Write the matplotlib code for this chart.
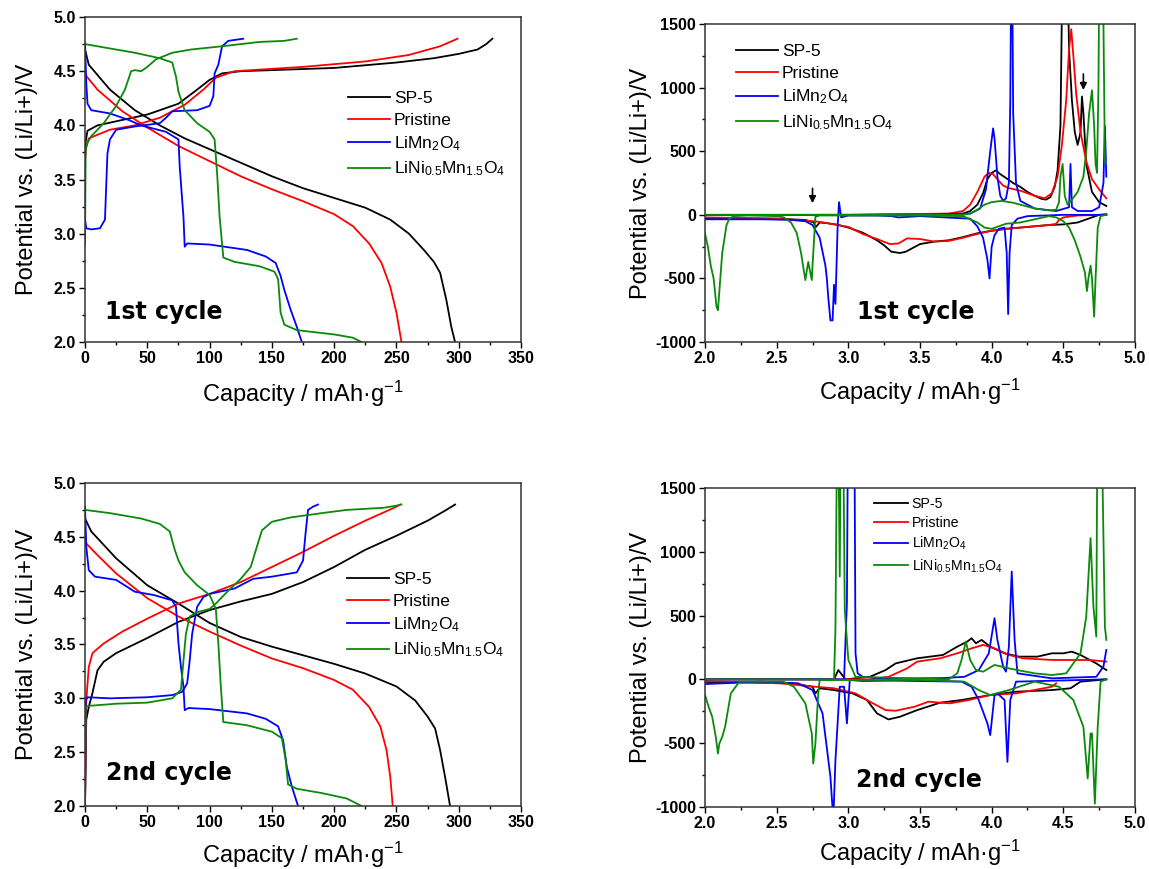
import matplotlib
matplotlib.use("Agg")
import matplotlib.pyplot as plt
from matplotlib.ticker import MultipleLocator, FormatStrFormatter

plt.rcParams['font.family'] = ['Liberation Sans', 'DejaVu Sans']
plt.rcParams['mathtext.fontset'] = 'custom'
plt.rcParams['mathtext.rm'] = 'Liberation Sans'
plt.rcParams['mathtext.it'] = 'Liberation Sans:italic'
plt.rcParams['mathtext.bf'] = 'Liberation Sans:bold'
plt.rcParams['mathtext.default'] = 'regular'
plt.rcParams['axes.unicode_minus'] = False

# ---------------- labels ----------------
series_labels = ['SP-5', 'Pristine', r'LiMn$_2$O$_4$', r'LiNi$_{0.5}$Mn$_{1.5}$O$_4$']
series_colors = ['black', '#ff0000', '#0000ff', '#0a8a0a']
cycle_titles = ['1st cycle', '2nd cycle']
xlabel_text = 'Capacity / mAh·g$^{-1}$'
ylabel_text = 'Potential vs. (Li/Li+)/V'

# ---------------- 1st cycle: voltage profiles ----------------
c1_sp5_chg_cap = [0, 0.5, 2, 10, 30, 50, 75, 90, 100, 110, 125, 200, 250, 280, 300, 315, 322, 327]
c1_sp5_chg_v = [3.7, 3.85, 3.95, 4.0, 4.05, 4.10, 4.2, 4.33, 4.42, 4.48, 4.5, 4.53, 4.58, 4.62, 4.66, 4.7, 4.75, 4.8]
c1_sp5_dis_cap = [0, 3, 20, 40, 60, 80, 100, 120, 150, 175, 200, 225, 245, 260, 272, 280, 285, 290, 294, 297]
c1_sp5_dis_v = [4.70, 4.56, 4.33, 4.14, 4.0, 3.88, 3.78, 3.68, 3.53, 3.42, 3.33, 3.24, 3.13, 3.0, 2.85, 2.74, 2.64, 2.39, 2.14, 2.0]

c1_pri_chg_cap = [0, 1, 3, 20, 40, 60, 80, 95, 105, 120, 175, 225, 260, 285, 299]
c1_pri_chg_v = [3.68, 3.8, 3.88, 3.96, 4.0, 4.07, 4.19, 4.33, 4.44, 4.5, 4.54, 4.59, 4.65, 4.73, 4.8]
c1_pri_dis_cap = [0, 10, 30, 50, 75, 100, 125, 150, 175, 200, 215, 228, 238, 245, 250, 254]
c1_pri_dis_v = [4.47, 4.33, 4.13, 3.98, 3.81, 3.67, 3.53, 3.41, 3.30, 3.18, 3.07, 2.91, 2.73, 2.51, 2.27, 2.0]

c1_lmo_chg_cap = [0, 0, 1, 5, 12, 16, 17, 18, 20, 25, 40, 60, 65, 70, 90, 100, 103, 104, 107, 110, 115, 127]
c1_lmo_chg_v = [2.95, 3.13, 3.05, 3.04, 3.05, 3.13, 3.44, 3.74, 3.87, 3.96, 3.99, 4.02, 4.07, 4.13, 4.14, 4.18, 4.27, 4.48, 4.56, 4.73, 4.78, 4.8]
c1_lmo_dis_cap = [0, 1, 2, 5, 20, 35, 45, 65, 75, 76, 78, 79, 80, 82, 100, 130, 145, 153, 157, 160, 165, 170, 174]
c1_lmo_dis_v = [4.76, 4.39, 4.2, 4.14, 4.11, 4.05, 4.0, 3.94, 3.87, 3.62, 3.31, 3.16, 2.88, 2.91, 2.9, 2.85, 2.79, 2.73, 2.61, 2.48, 2.3, 2.14, 2.0]

c1_lnmo_chg_cap = [0, 0.5, 2, 5, 15, 25, 32, 37, 40, 45, 50, 57, 70, 85, 110, 140, 160, 170]
c1_lnmo_chg_v = [2.9, 3.78, 3.84, 3.9, 4.02, 4.18, 4.33, 4.5, 4.51, 4.5, 4.54, 4.61, 4.67, 4.7, 4.73, 4.77, 4.78, 4.8]
c1_lnmo_dis_cap = [0, 20, 40, 60, 70, 73, 75, 80, 90, 100, 104, 106, 108, 111, 120, 140, 152, 155, 157, 160, 170, 200, 215, 222]
c1_lnmo_dis_v = [4.75, 4.71, 4.67, 4.62, 4.58, 4.45, 4.31, 4.14, 4.02, 3.94, 3.87, 3.56, 3.16, 2.78, 2.74, 2.7, 2.65, 2.58, 2.27, 2.16, 2.11, 2.07, 2.04, 2.0]

# ---------------- 2nd cycle: voltage profiles ----------------
c2_sp5_chg_cap = [0, 1, 3, 6, 10, 15, 25, 50, 75, 100, 125, 150, 175, 200, 225, 250, 275, 290, 297]
c2_sp5_chg_v = [2.0, 2.8, 2.92, 3.05, 3.26, 3.34, 3.42, 3.56, 3.71, 3.82, 3.9, 3.97, 4.08, 4.22, 4.38, 4.51, 4.65, 4.75, 4.8]
c2_sp5_dis_cap = [0, 5, 25, 50, 75, 100, 125, 150, 175, 200, 225, 250, 265, 275, 281, 285, 289, 293]
c2_sp5_dis_v = [4.67, 4.55, 4.3, 4.05, 3.88, 3.7, 3.57, 3.48, 3.4, 3.32, 3.23, 3.11, 2.98, 2.83, 2.72, 2.52, 2.27, 2.0]

c2_pri_chg_cap = [0, 1, 3, 6, 15, 30, 50, 75, 100, 125, 150, 175, 200, 225, 250, 253]
c2_pri_chg_v = [2.0, 2.98, 3.29, 3.42, 3.51, 3.62, 3.74, 3.88, 3.97, 4.08, 4.22, 4.36, 4.51, 4.65, 4.78, 4.8]
c2_pri_dis_cap = [0, 10, 25, 50, 75, 100, 125, 150, 175, 200, 215, 228, 237, 242, 245, 247]
c2_pri_dis_v = [4.45, 4.33, 4.16, 3.93, 3.76, 3.62, 3.49, 3.37, 3.28, 3.17, 3.08, 2.92, 2.74, 2.52, 2.27, 2.0]

c2_lmo_chg_cap = [0, 0.5, 2, 20, 50, 70, 78, 82, 84, 86, 90, 95, 100, 120, 135, 150, 170, 175, 177, 179, 183, 187]
c2_lmo_chg_v = [2.0, 2.98, 3.01, 3.0, 3.01, 3.03, 3.06, 3.14, 3.35, 3.6, 3.85, 3.94, 3.97, 4.02, 4.11, 4.13, 4.17, 4.28, 4.53, 4.75, 4.78, 4.8]
c2_lmo_dis_cap = [0, 1, 3, 8, 25, 40, 55, 70, 73, 75, 77, 79, 80, 83, 100, 130, 145, 155, 159, 162, 166, 171]
c2_lmo_dis_v = [4.78, 4.41, 4.19, 4.13, 4.1, 3.99, 3.96, 3.91, 3.85, 3.51, 3.29, 3.11, 2.89, 2.91, 2.9, 2.86, 2.81, 2.74, 2.61, 2.36, 2.18, 2.0]

c2_lnmo_chg_cap = [0, 0.5, 3, 25, 50, 70, 77, 79, 81, 84, 90, 100, 105, 115, 125, 133, 138, 142, 150, 165, 190, 210, 240, 250, 254]
c2_lnmo_chg_v = [2.0, 2.92, 2.93, 2.95, 2.96, 3.0, 3.08, 3.35, 3.6, 3.76, 3.8, 3.83, 3.88, 4.0, 4.11, 4.22, 4.41, 4.56, 4.64, 4.68, 4.72, 4.75, 4.77, 4.79, 4.8]
c2_lnmo_dis_cap = [0, 20, 45, 60, 68, 72, 75, 80, 90, 100, 105, 107, 109, 111, 130, 150, 158, 161, 163, 170, 190, 210, 222]
c2_lnmo_dis_v = [4.75, 4.72, 4.67, 4.62, 4.55, 4.38, 4.28, 4.17, 4.05, 3.96, 3.83, 3.51, 3.11, 2.78, 2.75, 2.69, 2.63, 2.43, 2.2, 2.16, 2.12, 2.07, 2.0]

# ---------------- 1st cycle: dQ/dV ----------------
d1_sp5_chg_v = [2.80, 3.00, 3.50, 3.80, 3.85, 3.90, 3.94, 3.97, 4.00, 4.03, 4.06, 4.10, 4.15, 4.20, 4.25, 4.30, 4.35, 4.38, 4.41, 4.44, 4.46, 4.48, 4.50, 4.52, 4.54, 4.56, 4.58, 4.60, 4.62, 4.63, 4.64, 4.66, 4.70, 4.75, 4.80]
d1_sp5_chg_q = [0, 0, 5, 10, 30, 80, 170, 280, 330, 350, 320, 290, 250, 220, 180, 150, 125, 120, 140, 220, 350, 700, 2500, 2500, 1300, 900, 650, 550, 650, 930, 800, 400, 180, 100, 70]
d1_sp5_dis_v = [4.80, 4.75, 4.70, 4.60, 4.50, 4.40, 4.30, 4.20, 4.10, 4.00, 3.90, 3.80, 3.70, 3.60, 3.50, 3.45, 3.40, 3.36, 3.30, 3.25, 3.20, 3.10, 3.00, 2.92, 2.85, 2.80, 2.77, 2.76, 2.70, 2.50, 2.00]
d1_sp5_dis_q = [5, 0, -20, -60, -75, -80, -90, -100, -110, -125, -145, -175, -200, -210, -230, -260, -290, -300, -290, -240, -200, -140, -100, -77, -65, -60, -100, -60, -40, -30, -25]

d1_pri_chg_v = [2.0, 3.0, 3.70, 3.80, 3.85, 3.90, 3.95, 3.98, 4.01, 4.04, 4.08, 4.12, 4.20, 4.30, 4.37, 4.42, 4.46, 4.49, 4.52, 4.54, 4.555, 4.57, 4.59, 4.62, 4.66, 4.70, 4.75, 4.80]
d1_pri_chg_q = [0, 0, 10, 30, 80, 180, 300, 330, 320, 280, 230, 210, 190, 150, 130, 170, 300, 550, 900, 1300, 1460, 1250, 950, 650, 420, 280, 200, 130]
d1_pri_dis_v = [4.80, 4.60, 4.50, 4.47, 4.45, 4.40, 4.30, 4.20, 4.10, 4.00, 3.90, 3.80, 3.70, 3.60, 3.50, 3.41, 3.35, 3.29, 3.20, 3.10, 3.00, 2.90, 2.80, 2.70, 2.50, 2.00]
d1_pri_dis_q = [0, -5, -20, -40, -70, -80, -90, -100, -110, -125, -150, -180, -205, -210, -190, -185, -225, -230, -190, -150, -95, -75, -55, -45, -30, -20]

d1_lmo_chg_v = [2.0, 3.0, 3.5, 3.85, 3.92, 3.96, 3.99, 4.01, 4.02, 4.04, 4.06, 4.08, 4.10, 4.12, 4.13, 4.14, 4.15, 4.17, 4.20, 4.30, 4.45, 4.54, 4.55, 4.56, 4.60, 4.70, 4.75, 4.78, 4.79, 4.80]
d1_lmo_chg_q = [0, 0, 0, 10, 50, 200, 500, 680, 600, 300, 150, 110, 130, 250, 900, 2500, 800, 250, 110, 50, 30, 60, 400, 60, 30, 30, 60, 250, 700, 300]
d1_lmo_dis_v = [4.80, 4.50, 4.25, 4.18, 4.14, 4.125, 4.115, 4.105, 4.09, 4.05, 4.02, 4.00, 3.985, 3.97, 3.94, 3.90, 3.85, 3.50, 3.35, 3.30, 3.20, 3.00, 2.95, 2.935, 2.925, 2.91, 2.90, 2.89, 2.875, 2.86, 2.85, 2.84, 2.80, 2.75, 2.70, 2.60, 2.40, 2.00]
d1_lmo_dis_q = [0, 0, -10, -30, -80, -300, -780, -300, -100, -110, -160, -250, -500, -350, -180, -90, -30, -10, -20, -10, -5, -5, -20, 100, -100, -700, -550, -830, -830, -650, -500, -400, -180, -80, -50, -40, -35, -35]

d1_lnmo_chg_v = [2.0, 3.0, 3.80, 3.85, 3.90, 3.95, 4.00, 4.07, 4.15, 4.20, 4.30, 4.40, 4.45, 4.47, 4.48, 4.495, 4.51, 4.53, 4.56, 4.60, 4.64, 4.66, 4.68, 4.70, 4.715, 4.725, 4.735, 4.745, 4.755, 4.77, 4.78, 4.79, 4.80]
d1_lnmo_chg_q = [0, 0, 0, 10, 40, 80, 100, 110, 95, 80, 50, 35, 40, 100, 300, 400, 150, 80, 120, 180, 300, 500, 800, 980, 700, 400, 330, 1000, 2500, 2500, 1500, 420, 400]
d1_lnmo_dis_v = [4.80, 4.76, 4.74, 4.725, 4.715, 4.70, 4.69, 4.675, 4.665, 4.65, 4.62, 4.58, 4.54, 4.50, 4.45, 4.40, 4.20, 4.10, 4.00, 3.95, 3.90, 3.80, 3.50, 2.80, 2.77, 2.75, 2.745, 2.72, 2.70, 2.67, 2.64, 2.60, 2.55, 2.50, 2.30, 2.20, 2.17, 2.15, 2.12, 2.10, 2.09, 2.08, 2.06, 2.04, 2.02, 2.00]
d1_lnmo_dis_q = [0, -10, -100, -500, -800, -500, -400, -500, -600, -450, -330, -200, -100, -50, -20, -10, -60, -70, -110, -100, -60, -10, -5, -5, -15, -400, -513, -370, -513, -300, -143, -60, -20, -10, -5, -10, -30, -80, -300, -600, -750, -720, -500, -400, -250, -150]

# ---------------- 2nd cycle: dQ/dV ----------------
d2_sp5_chg_v = [2.0, 2.90, 2.93, 2.98, 3.15, 3.26, 3.33, 3.48, 3.66, 3.76, 3.83, 3.86, 3.89, 3.93, 3.99, 4.09, 4.19, 4.32, 4.42, 4.50, 4.56, 4.62, 4.73, 4.80]
d2_sp5_chg_q = [0, 0, 73, 0, 20, 73, 125, 165, 191, 256, 296, 322, 283, 309, 256, 204, 178, 178, 204, 204, 217, 191, 125, 73]
d2_sp5_dis_v = [4.80, 4.62, 4.55, 4.42, 4.17, 3.99, 3.79, 3.64, 3.48, 3.36, 3.28, 3.20, 3.13, 3.03, 2.90, 2.80, 2.77, 2.75, 2.60, 2.00]
d2_sp5_dis_q = [0, -18, -70, -84, -97, -123, -162, -183, -241, -293, -314, -267, -162, -110, -84, -70, -110, -58, -30, -20]

d2_pri_chg_v = [2.0, 3.15, 3.28, 3.41, 3.48, 3.64, 3.76, 3.86, 3.94, 4.02, 4.12, 4.22, 4.42, 4.68, 4.80]
d2_pri_chg_q = [0, 0, 20, 86, 139, 165, 204, 243, 270, 243, 191, 165, 152, 152, 139]
d2_pri_dis_v = [4.45, 4.42, 4.17, 3.99, 3.84, 3.71, 3.64, 3.56, 3.46, 3.33, 3.26, 3.15, 3.05, 2.90, 2.77, 2.52, 2.00]
d2_pri_dis_q = [-31, -58, -110, -123, -162, -188, -183, -175, -215, -246, -241, -175, -110, -70, -58, -31, -13]

d2_lmo_chg_v = [2.0, 2.97, 2.99, 3.00, 3.04, 3.05, 3.065, 3.10, 3.28, 3.66, 3.81, 3.91, 3.98, 4.02, 4.04, 4.08, 4.10, 4.12, 4.14, 4.16, 4.18, 4.42, 4.73, 4.78, 4.80]
d2_lmo_chg_q = [0, 0, 600, 2500, 2500, 204, 47, 20, 5, 10, 20, 73, 204, 479, 309, 100, 60, 256, 845, 309, 47, 8, 20, 100, 230]
d2_lmo_dis_v = [4.80, 4.17, 4.13, 4.11, 4.09, 4.04, 4.02, 3.99, 3.97, 3.91, 3.86, 3.79, 3.30, 3.10, 3.01, 2.99, 2.97, 2.94, 2.91, 2.895, 2.875, 2.82, 2.75, 2.65, 2.39, 2.00]
d2_lmo_dis_q = [0, -18, -162, -647, -162, -110, -123, -437, -345, -162, -58, -18, -10, -13, -5, -345, -58, -58, -633, -1100, -764, -267, -84, -31, -18, -37]

d2_lnmo_chg_v = [2.0, 2.90, 2.91, 2.925, 2.94, 2.95, 2.96, 2.975, 3.00, 3.05, 3.70, 3.76, 3.79, 3.82, 3.85, 3.89, 3.94, 4.02, 4.12, 4.30, 4.42, 4.52, 4.62, 4.66, 4.69, 4.71, 4.73, 4.74, 4.76, 4.79, 4.80]
d2_lnmo_chg_q = [0, 0, 400, 2500, 806, 2500, 2500, 545, 152, 20, 0, 47, 152, 296, 152, 73, 60, 113, 86, 47, 34, 47, 204, 492, 1107, 570, 335, 2500, 2500, 413, 309]
d2_lnmo_dis_v = [4.80, 4.76, 4.74, 4.72, 4.70, 4.69, 4.67, 4.64, 4.57, 4.47, 4.30, 4.12, 3.99, 3.91, 3.81, 3.50, 2.80, 2.79, 2.77, 2.755, 2.745, 2.70, 2.62, 2.545, 2.24, 2.18, 2.14, 2.12, 2.10, 2.09, 2.075, 2.05, 2.025, 2.00]
d2_lnmo_dis_q = [0, -18, -372, -974, -424, -424, -777, -372, -162, -58, -18, -84, -123, -84, -18, -5, -5, -110, -503, -660, -424, -188, -58, -18, -18, -110, -372, -450, -503, -581, -450, -293, -215, -123]

# ---------------- figure ----------------
fig = plt.figure(figsize=(11.49, 8.69), dpi=100)
ax1 = fig.add_axes([0.0740, 0.6064, 0.3795, 0.3740])
ax2 = fig.add_axes([0.6136, 0.6064, 0.3742, 0.3659])
ax3 = fig.add_axes([0.0740, 0.0725, 0.3795, 0.3717])
ax4 = fig.add_axes([0.6136, 0.0714, 0.3742, 0.3671])

LW = 1.3

def style(ax, kind):
    for sp in ax.spines.values():
        sp.set_linewidth(1.1)
        sp.set_color('#333333')
    ax.tick_params(which='major', direction='out', length=4.5, width=1.0, labelsize=11.5, pad=2)
    ax.tick_params(which='minor', direction='out', length=2.3, width=1.0)
    ax.tick_params(top=False, right=False, which='both')
    if kind == 'v':
        ax.set_xlim(0, 350)
        ax.set_ylim(2.0, 5.0)
        ax.xaxis.set_major_locator(MultipleLocator(50))
        ax.xaxis.set_minor_locator(MultipleLocator(25))
        ax.yaxis.set_major_locator(MultipleLocator(0.5))
        ax.yaxis.set_minor_locator(MultipleLocator(0.25))
        ax.yaxis.set_major_formatter(FormatStrFormatter('%.1f'))
    else:
        ax.set_xlim(2.0, 5.0)
        ax.set_ylim(-1000, 1500)
        ax.xaxis.set_major_locator(MultipleLocator(0.5))
        ax.xaxis.set_minor_locator(MultipleLocator(0.25))
        ax.xaxis.set_major_formatter(FormatStrFormatter('%.1f'))
        ax.yaxis.set_major_locator(MultipleLocator(500))
        ax.yaxis.set_minor_locator(MultipleLocator(250))
    ax.set_xlabel(xlabel_text, fontsize=17)
    ax.set_ylabel(ylabel_text, fontsize=17)

def finalize_ticks(ax):
    for lab in ax.get_xticklabels() + ax.get_yticklabels():
        lab.set_fontweight('bold')
        lab.set_fontsize(11.5)

p1 = [(c1_sp5_chg_cap, c1_sp5_chg_v, c1_sp5_dis_cap, c1_sp5_dis_v),
      (c1_pri_chg_cap, c1_pri_chg_v, c1_pri_dis_cap, c1_pri_dis_v),
      (c1_lmo_chg_cap, c1_lmo_chg_v, c1_lmo_dis_cap, c1_lmo_dis_v),
      (c1_lnmo_chg_cap, c1_lnmo_chg_v, c1_lnmo_dis_cap, c1_lnmo_dis_v)]
p3 = [(c2_sp5_chg_cap, c2_sp5_chg_v, c2_sp5_dis_cap, c2_sp5_dis_v),
      (c2_pri_chg_cap, c2_pri_chg_v, c2_pri_dis_cap, c2_pri_dis_v),
      (c2_lmo_chg_cap, c2_lmo_chg_v, c2_lmo_dis_cap, c2_lmo_dis_v),
      (c2_lnmo_chg_cap, c2_lnmo_chg_v, c2_lnmo_dis_cap, c2_lnmo_dis_v)]
p2 = [(d1_sp5_chg_v, d1_sp5_chg_q, d1_sp5_dis_v, d1_sp5_dis_q),
      (d1_pri_chg_v, d1_pri_chg_q, d1_pri_dis_v, d1_pri_dis_q),
      (d1_lmo_chg_v, d1_lmo_chg_q, d1_lmo_dis_v, d1_lmo_dis_q),
      (d1_lnmo_chg_v, d1_lnmo_chg_q, d1_lnmo_dis_v, d1_lnmo_dis_q)]
p4 = [(d2_sp5_chg_v, d2_sp5_chg_q, d2_sp5_dis_v, d2_sp5_dis_q),
      (d2_pri_chg_v, d2_pri_chg_q, d2_pri_dis_v, d2_pri_dis_q),
      (d2_lmo_chg_v, d2_lmo_chg_q, d2_lmo_dis_v, d2_lmo_dis_q),
      (d2_lnmo_chg_v, d2_lnmo_chg_q, d2_lnmo_dis_v, d2_lnmo_dis_q)]

panels = [(ax1, p1, 'v', 0, (0.603, 0.773), 12.5, 0.38, (0.046, 0.092)),
          (ax2, p2, 'd', 0, (0.072, 0.937), 12.5, 0.38, (0.353, 0.094)),
          (ax3, p3, 'v', 1, (0.601, 0.725), 12.5, 0.38, (0.048, 0.102)),
          (ax4, p4, 'd', 1, (0.393, 0.972), 10.2, 0.35, (0.351, 0.085))]

for ax, data, kind, ci, legpos, legfs, legsp, txtpos in panels:
    style(ax, kind)
    handles = []
    for (xa, ya, xb, yb), col, lab in zip(data, series_colors, series_labels):
        h, = ax.plot(xa, ya, color=col, lw=LW, label=lab)
        ax.plot(xb, yb, color=col, lw=LW)
        handles.append(h)
    ax.legend(handles=handles, loc='upper left', bbox_to_anchor=legpos,
              frameon=False, fontsize=legfs, handlelength=2.4, handletextpad=0.25,
              labelspacing=legsp, borderpad=0, borderaxespad=0)
    ax.text(txtpos[0], txtpos[1], cycle_titles[ci], transform=ax.transAxes,
            fontsize=17, fontweight='bold', family='DejaVu Sans', va='center', ha='left')
    finalize_ticks(ax)

ax1.yaxis.set_label_coords(-0.107, 0.5)
ax3.yaxis.set_label_coords(-0.107, 0.5)
ax2.yaxis.set_label_coords(-0.124, 0.5)
ax4.yaxis.set_label_coords(-0.124, 0.5)
ax1.xaxis.set_label_coords(0.5, -0.112)
ax2.xaxis.set_label_coords(0.5, -0.108)
ax3.xaxis.set_label_coords(0.5, -0.104)
ax4.xaxis.set_label_coords(0.5, -0.098)

arrow_x = [2.75, 4.64]
arrow_tail = [230, 1130]
arrow_head = [70, 960]
for xv, yt, yh in zip(arrow_x, arrow_tail, arrow_head):
    ax2.annotate('', xy=(xv, yh), xytext=(xv, yt),
                 arrowprops=dict(arrowstyle='-|>', color='black', lw=1.2, mutation_scale=10))

fig.savefig('out.png', dpi=100)
